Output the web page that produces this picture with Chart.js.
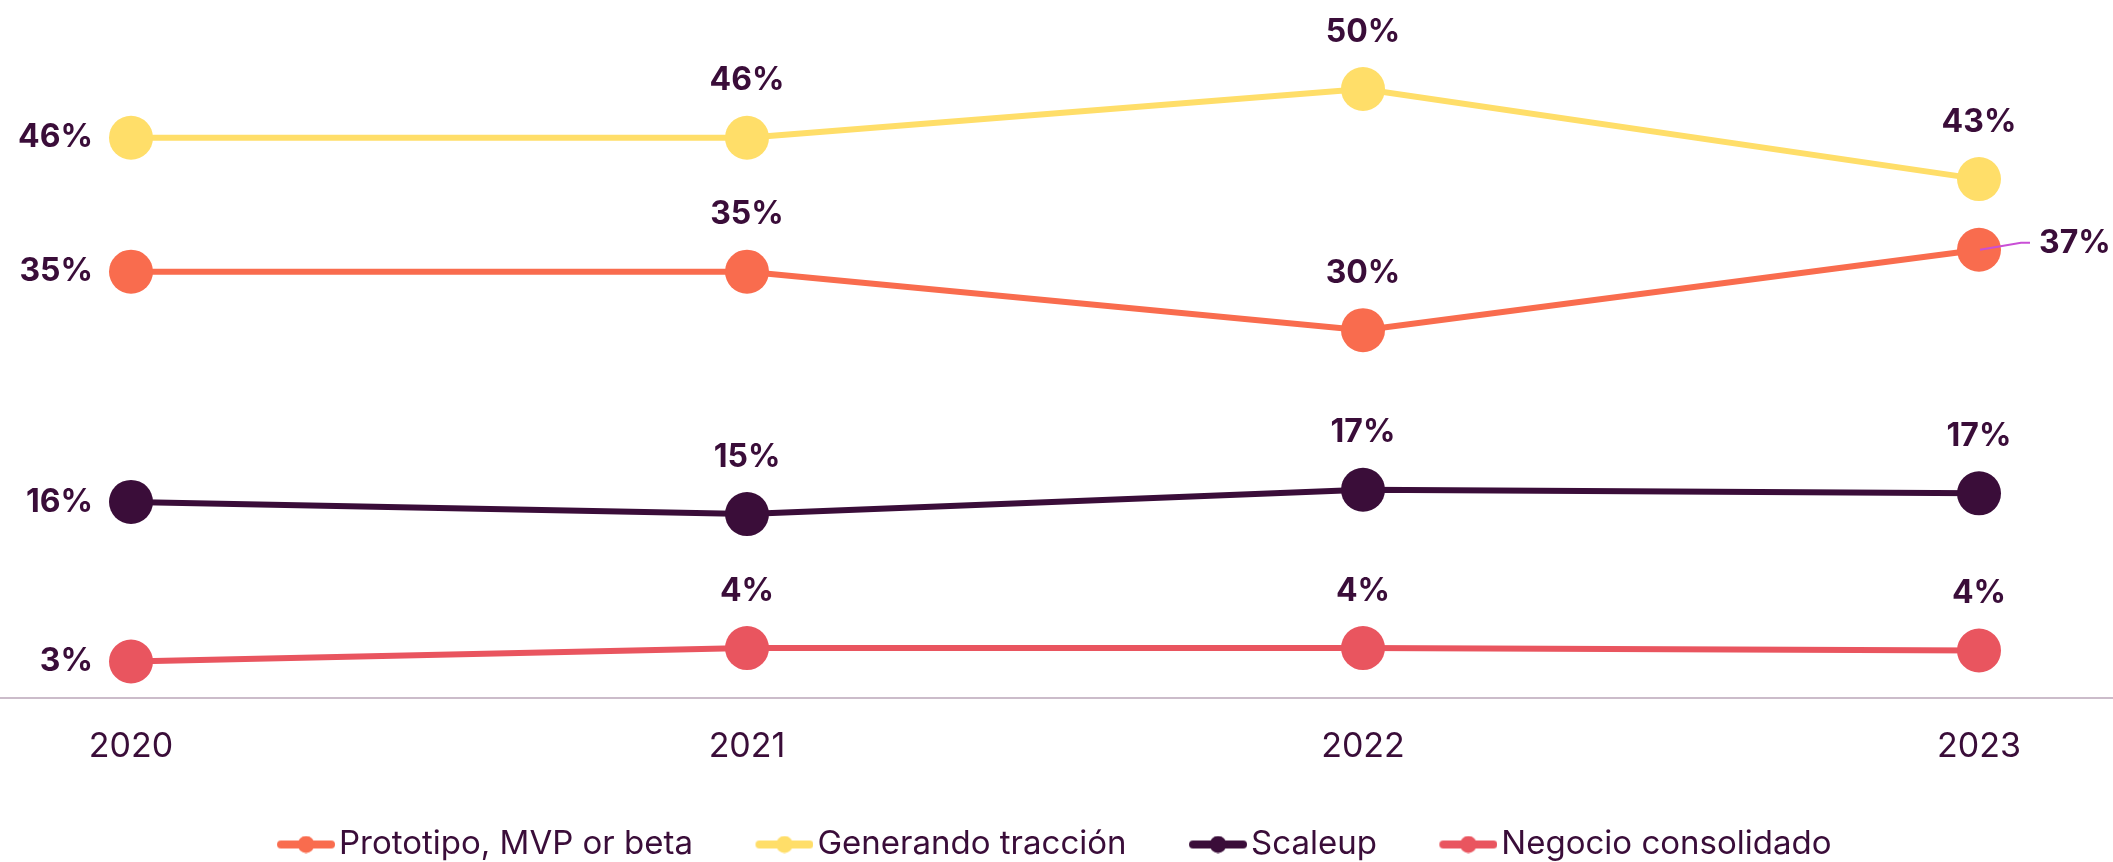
<!DOCTYPE html>
<html>
<head>
<meta charset="utf-8">
<script src="https://cdn.jsdelivr.net/npm/chart.js@4.4.1/dist/chart.umd.min.js"></script>
<style>
  html, body { margin: 0; padding: 0; background: #fff; overflow: hidden; }
  #wrap { width: 2113px; height: 871px; position: relative; }
</style>
</head>
<body>
<div id="wrap"><canvas id="chart"></canvas></div>
<script>
// data
const years = ["2020", "2021", "2022", "2023"];
const prototipo = [35, 35, 30.2, 36.8];
const generando = [46, 46, 50, 42.6];
const scaleup = [16.1, 15.1, 17.1, 16.8];
const negocio = [3, 4.1, 4.1, 3.9];
const seriesNames = ["Prototipo, MVP or beta", "Generando tracción", "Scaleup", "Negocio consolidado"];

const colors = ["#f96c4e", "#ffde69", "#3a0d39", "#e9555f"];
const ink = "#3a0d39";
const FONT = "Inter, 'Noto Sans', sans-serif";

// legend marker: short line with a dot in the middle (drawn right-aligned so it sits close to the text)
function legendMark(color) {
  const c = document.createElement("canvas");
  c.width = 69; c.height = 18;
  const g = c.getContext("2d");
  g.strokeStyle = color; g.lineWidth = 8; g.lineCap = "round";
  g.beginPath(); g.moveTo(15, 9); g.lineTo(65, 9); g.stroke();
  g.fillStyle = color;
  g.beginPath(); g.arc(40, 9, 8.5, 0, Math.PI * 2); g.fill();
  return c;
}
const marks = colors.map(legendMark);

// axis line spans the whole width
const baseLine = {
  id: "baseLine",
  beforeDatasetsDraw(chart) {
    const ctx = chart.ctx;
    const y = chart.scales.y.getPixelForValue(0);
    ctx.save();
    ctx.strokeStyle = "#cbbcca";
    ctx.lineWidth = 2;
    ctx.beginPath();
    ctx.moveTo(0, y);
    ctx.lineTo(chart.width, y);
    ctx.stroke();
    ctx.restore();
  }
};

// percentage labels next to each point
const valueLabels = {
  id: "valueLabels",
  afterDatasetsDraw(chart) {
    const ctx = chart.ctx;
    ctx.save();
    ctx.font = "700 32px " + FONT;
    ctx.fillStyle = ink;
    ctx.textBaseline = "middle";
    chart.data.datasets.forEach((ds, di) => {
      chart.getDatasetMeta(di).data.forEach((pt, i) => {
        const text = Math.round(ds.data[i]) + "%";
        if (i === 0) {
          ctx.textAlign = "right";
          ctx.fillText(text, pt.x - 38, pt.y);
        } else if (di === 0 && i === 3) {
          // leader line to the label on the right
          ctx.strokeStyle = "#c94fd6";
          ctx.lineWidth = 2;
          ctx.beginPath();
          ctx.moveTo(pt.x + 1, pt.y);
          ctx.lineTo(pt.x + 42, pt.y - 7);
          ctx.lineTo(pt.x + 51, pt.y - 7);
          ctx.stroke();
          ctx.textAlign = "left";
          ctx.fillText(text, pt.x + 60, pt.y - 6);
        } else {
          ctx.textAlign = "center";
          ctx.fillText(text, pt.x, pt.y - 57);
        }
      });
    });
    ctx.restore();
  }
};

const series = [prototipo, generando, scaleup, negocio];

new Chart(document.getElementById("chart"), {
  type: "line",
  data: {
    labels: years,
    datasets: series.map((d, i) => ({
      label: seriesNames[i],
      data: d,
      borderColor: colors[i],
      backgroundColor: colors[i],
      pointBackgroundColor: colors[i],
      pointBorderWidth: 0,
      pointRadius: 22,
      pointHoverRadius: 22,
      borderWidth: 6,
      tension: 0,
      clip: false
    }))
  },
  options: {
    responsive: true,
    maintainAspectRatio: false,
    animation: false,
    events: [],
    layout: { padding: { left: 131, right: 134, top: 15, bottom: 0 } },
    scales: {
      x: {
        offset: false,
        grid: { display: false, drawTicks: false },
        border: { display: false },
        ticks: { color: ink, font: { family: FONT, size: 34 }, padding: 28 },
        afterFit(scale) { scale.height = 66; }
      },
      y: {
        display: false,
        min: 0,
        max: 55.5
      }
    },
    plugins: {
      tooltip: { enabled: false },
      legend: {
        position: "bottom",
        labels: {
          usePointStyle: true,
          pointStyleWidth: 44,
          padding: 64,
          color: ink,
          font: { family: FONT, size: 33 },
          generateLabels(chart) {
            return Chart.defaults.plugins.legend.labels.generateLabels(chart)
              .map((l, i) => ({ ...l, pointStyle: marks[i] }));
          }
        }
      }
    }
  },
  plugins: [baseLine, valueLabels]
});
</script>
</body>
</html>
